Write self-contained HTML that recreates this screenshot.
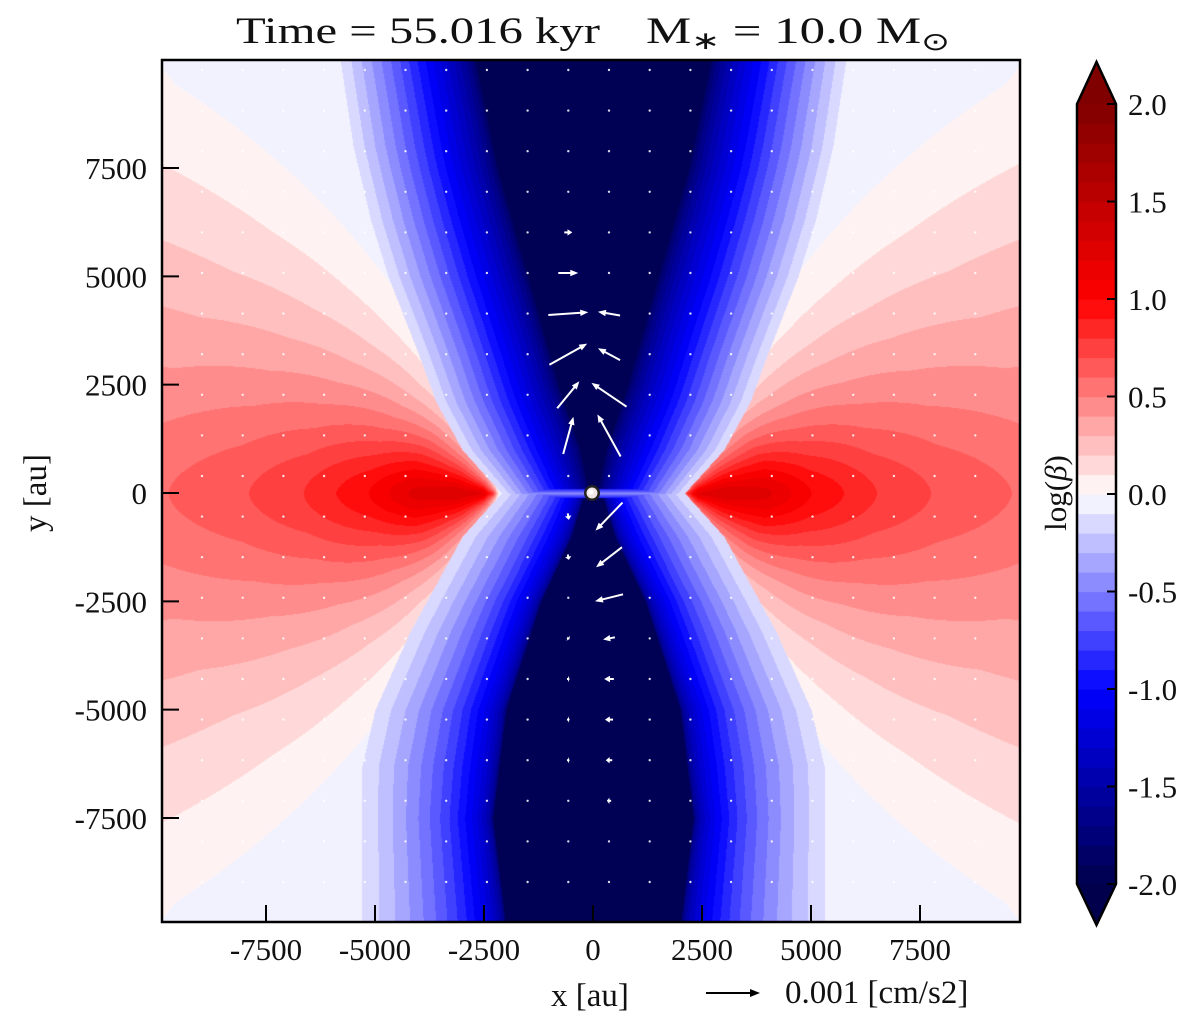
<!DOCTYPE html>
<html><head><meta charset="utf-8">
<style>
html,body{margin:0;padding:0;background:#fff;}
#wrap{position:relative;width:1200px;height:1035px;overflow:hidden;font-family:"Liberation Serif",serif;}
#field{position:absolute;left:162px;top:60px;}
#ov{position:absolute;left:0;top:0;}
text{font-family:"Liberation Serif",serif;fill:#111;}
</style></head>
<body>
<div id="wrap">
<canvas id="field" width="858" height="862"></canvas>
<svg id="ov" width="1200" height="1035">
  <g id="quiver"></g>
  <g>
    <circle cx="592" cy="493" r="8" fill="#222"/>
    <circle cx="592" cy="493" r="5.5" fill="#f2e6e6"/>
    <circle cx="591" cy="492" r="2.5" fill="#fff"/>
  </g>
  <rect x="162" y="60" width="858" height="862" fill="none" stroke="#000" stroke-width="2.5"/>
  <g id="ticks"></g>
  <g>
    <text x="236" y="43" font-size="37" textLength="364" lengthAdjust="spacingAndGlyphs">Time = 55.016 kyr</text>
    <text x="646" y="43" font-size="37" textLength="304" lengthAdjust="spacingAndGlyphs">M<tspan font-size="25" dy="6">∗</tspan><tspan dy="-6">  = 10.0 M</tspan><tspan font-size="25" dy="7">⊙</tspan></text>
  </g>
  <text x="590" y="1006" font-size="33" text-anchor="middle">x [au]</text>
  <text x="0" y="0" font-size="33" text-anchor="middle" transform="translate(46,493) rotate(-90)">y [au]</text>
  <g>
    <line x1="706" y1="993" x2="752" y2="993" stroke="#000" stroke-width="2"/>
    <polygon points="760,993 750,989 750,997" fill="#000"/>
    <text x="785" y="1003" font-size="33">0.001 [cm/s2]</text>
  </g>
  <g id="cbar"></g>
  <text x="0" y="0" font-size="31" text-anchor="middle" transform="translate(1066,493) rotate(-90)">log(<tspan font-style="italic">β</tspan>)</text>
</svg>
</div>
<script>
// ---- data ----
const xTicks = [-7500, -5000, -2500, 0, 2500, 5000, 7500];
const yTicks = [7500, 5000, 2500, 0, -2500, -5000, -7500];
const cbTicks = [2.0, 1.5, 1.0, 0.5, 0.0, -0.5, -1.0, -1.5, -2.0];
// field profiles (units of 10^4 au)
const profB = [0, 0.1, 0.21, 0.32, 0.5, 0.63, 0.8, 1.0];
const wTop = [0.21, 0.30, 0.36, 0.40, 0.47, 0.51, 0.55, 0.58];
const wBot = [0.21, 0.30, 0.36, 0.42, 0.50, 0.53, 0.53, 0.53];
const coreB = [0, 0.1, 0.25, 0.5, 0.75, 1.0];
const cTop = [0.01, 0.03, 0.08, 0.15, 0.22, 0.27];
const cBot = [0.02, 0.05, 0.12, 0.20, 0.23, 0.20];
const lobeD = [0, 0.015, 0.04, 0.1, 0.2, 0.3, 0.45, 0.6, 0.8, 1.3];
const lobeM = [0, 0.8, 1.2, 1.28, 1.22, 1.0, 0.8, 0.68, 0.58, 0.5];
// quiver: grid column/row indices and components (units of 1e-4 cm/s2)
const arrowCol = [9, 9, 9, 10, 9, 10, 9, 10, 9, 10, 10, 10, 10, 10, 10, 10, 9, 9, 9, 9, 9, 9, 10, 10];
const arrowRow = [4, 5, 6, 6, 7, 7, 8, 8, 9, 9, 11, 12, 13, 14, 15, 16, 11, 12, 14, 15, 16, 17, 17, 18];
const arrowU =   [1.5, 3.7, 7.4, -4.1, 7.0, -4.1, 4.1, -6.5, 1.9, -4.3, -5.0, -4.8, -5.2, -2.2, -1.8, -1.5, 0.2, 0.2, 0.4, 0.5, 0.5, 0.5, -1.2, -0.8];
const arrowV =   [0, 0, 0.5, 0.7, 3.9, 2.2, 5.0, 4.4, 6.9, 7.8, -5.2, -3.7, -1.3, -0.4, 0, 0, -1.2, -1.0, -0.3, 0, 0, 0, 0, 0];

// ---- axes ----
const PX0 = 593, PY0 = 493, SX = 0.0436, SY = 0.04333;
const xs = v => PX0 + v * SX;
const ys = v => PY0 - v * SY;
const NS = 'http://www.w3.org/2000/svg';
function mk(tag, attrs, parent) { const e = document.createElementNS(NS, tag); for (const k in attrs) e.setAttribute(k, attrs[k]); parent.appendChild(e); return e; }

const tk = document.getElementById('ticks');
xTicks.forEach(v => {
  const l = mk('line', {x1: xs(v), x2: xs(v), y1: 922, y2: 905, stroke: '#000', 'stroke-width': 2}, tk);
  
  
  const t = mk('text', {x: xs(v), y: 960, 'font-size': 31, 'text-anchor': 'middle'}, tk);
  t.textContent = String(v);
  
  
});
yTicks.forEach(v => {
  const l = mk('line', {x1: 162, x2: 179, y1: ys(v), y2: ys(v), stroke: '#000', 'stroke-width': 2}, tk);
  
  
  const t = mk('text', {x: 147, y: ys(v) + 11, 'font-size': 31, 'text-anchor': 'end'}, tk);
  t.textContent = String(v);
  
  
});

// ---- colormap (seismic) ----
const seis = [[0,0,0.3],[0,0,1],[1,1,1],[1,0,0],[0.5,0,0]];
function cmap(p) {
  p = Math.max(0, Math.min(1, p)) * 4; let i = Math.min(3, Math.floor(p)); const f = p - i;
  return seis[i].map((c, k) => Math.round(255 * (c + (seis[i + 1][k] - c) * f)));
}
function levelColor(v) {
  let lv = Math.floor(v / 0.1) * 0.1 + 0.05;
  lv = Math.max(-1.95, Math.min(1.95, lv));
  return cmap((lv + 2) / 4);
}

// colorbar
const cb = document.getElementById('cbar');
const CBX = 1077, CBW = 39, CBT = 104, CBB = 884;
const cbY = v => CBT + (2 - v) / 4 * (CBB - CBT);
for (let k = 0; k < 40; k++) {
  const lo = -2 + k * 0.1, hi = lo + 0.1, c = cmap((lo + 0.05 + 2) / 4);
  const r = mk('rect', {x: CBX, y: cbY(hi), width: CBW, height: cbY(lo) - cbY(hi) + 0.6, fill: `rgb(${c})`}, cb);
  
  
}
const cTopC = cmap(1), cBotC = cmap(0);
const tri1 = mk('polygon', {points: `${CBX},${CBT} ${CBX + CBW / 2},62 ${CBX + CBW},${CBT}`, fill: `rgb(${cTopC})`}, cb);


const tri2 = mk('polygon', {points: `${CBX},${CBB} ${CBX + CBW / 2},925 ${CBX + CBW},${CBB}`, fill: `rgb(${cBotC})`}, cb);


const ol = mk('polygon', {points: `${CBX},${CBT} ${CBX + CBW / 2},62 ${CBX + CBW},${CBT} ${CBX + CBW},${CBB} ${CBX + CBW / 2},925 ${CBX},${CBB}`, fill: 'none', stroke: '#000', 'stroke-width': 2.5}, cb);


cbTicks.forEach(v => {
  const l = mk('line', {x1: CBX + CBW - 9, x2: CBX + CBW, y1: cbY(v), y2: cbY(v), stroke: '#000', 'stroke-width': 2}, cb);
  
  
  const t = mk('text', {x: 1128, y: cbY(v) + 11, 'font-size': 31}, cb);
  t.textContent = v.toFixed(1);
  
  
});

// ---- field ----
function interp(xa, ya, x) {
  if (x <= xa[0]) return ya[0];
  for (let i = 1; i < xa.length; i++) if (x <= xa[i]) { const f = (x - xa[i - 1]) / (xa[i] - xa[i - 1]); return ya[i - 1] + f * (ya[i] - ya[i - 1]); }
  return ya[ya.length - 1];
}
function field(X, Y) {
  const a = Math.abs(X), b = Math.abs(Y), top = Y >= 0;
  const w = interp(profB, top ? wTop : wBot, b);
  const c = interp(coreB, top ? cTop : cBot, b);
  let f;
  if (a < w) {
    const t = Math.max(0, (a - c) / (w - c));
    const p = top ? 0.7 : 0.45;
    f = a < c ? -1.95 : -1.9 + 1.8 * Math.pow(t, p);
    if (b < 0.01) f = Math.max(f, -0.5 - 40 * b);
  } else {
    const waist = X < 0 ? 0.215 : 0.20;
    const dx = Math.max(1e-4, a - waist), d = Math.hypot(dx, b);
    const phi = Math.atan2(b, dx) * 180 / Math.PI;
    const phi0 = 72 - 20 * Math.min(d / 1.2, 1);
    const u = phi / phi0;
    const g = 1 - Math.sqrt(u * u + 0.01) + 0.1 * (1 - u);
    f = interp(lobeD, lobeM, d) * g;
    f = Math.max(f, -0.09);
  }
  return f;
}
const cv = document.getElementById('field'), ctx = cv.getContext('2d');
const img = ctx.createImageData(858, 862);
for (let py = 0; py < 862; py++) {
  const Y = (PY0 - (py + 60)) / 433.3;
  for (let px = 0; px < 858; px++) {
    const X = (px + 162 - PX0) / 436;
    const col = levelColor(field(X, Y));
    const o = (py * 858 + px) * 4;
    img.data[o] = col[0]; img.data[o + 1] = col[1]; img.data[o + 2] = col[2]; img.data[o + 3] = 255;
  }
}
ctx.putImageData(img, 0, 0);

// ---- quiver ----
const q = document.getElementById('quiver');
const GX0 = 202, GDX = 40.7, GY0 = 70, GDY = 40.6, UPX = 5.4;
const key = {};
arrowCol.forEach((c, i) => key[c + ',' + arrowRow[i]] = i);
for (let r = 0; r < 21; r++) for (let c = 0; c < 20; c++) {
  const gx = GX0 + c * GDX, gy = GY0 + r * GDY;
  if (gx > 1016 || gy > 918) continue;
  const k = key[c + ',' + r];
  if (k === undefined) {
    const d = mk('circle', {cx: gx, cy: gy, r: 1.2, fill: '#fff', 'fill-opacity': 0.85}, q);
    
    
    continue;
  }
  const du = arrowU[k] * UPX, dv = -arrowV[k] * UPX;
  const len = Math.hypot(du, dv) || 1, ux = du / len, uy = dv / len;
  const x1 = gx - du / 2, y1 = gy - dv / 2, x2 = gx + du / 2, y2 = gy + dv / 2;
  const hl = Math.min(8, len * 0.6), hw = 3.2;
  const g = mk('g', {}, q);
  
  
  mk('line', {x1: x1, y1: y1, x2: x2 - ux * hl * 0.7, y2: y2 - uy * hl * 0.7, stroke: '#fff', 'stroke-width': 2}, g);
  const bx = x2 - ux * hl, by = y2 - uy * hl;
  mk('polygon', {points: `${x2},${y2} ${bx - uy * hw},${by + ux * hw} ${bx + uy * hw},${by - ux * hw}`, fill: '#fff'}, g);
}
</script>
</body></html>
